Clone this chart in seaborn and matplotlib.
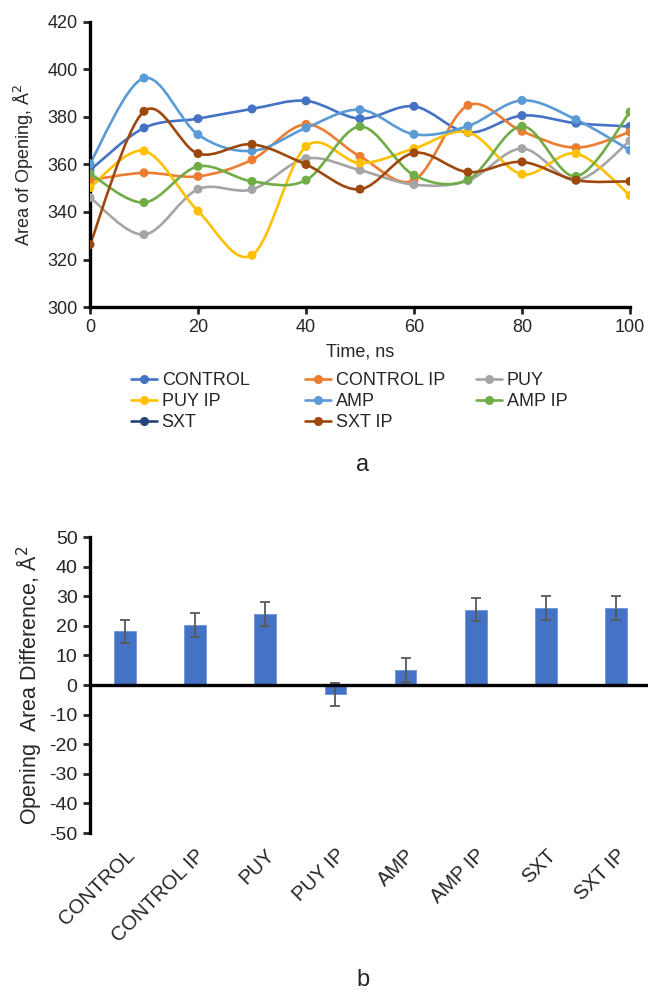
import numpy as np
import pandas as pd
import matplotlib
matplotlib.use("Agg")
import matplotlib.pyplot as plt
from matplotlib.path import Path
from matplotlib.patches import PathPatch
from matplotlib.lines import Line2D
import seaborn as sns

# Panel a: area of opening over time
time_ns = [0, 10, 20, 30, 40, 50, 60, 70, 80, 90, 100]
control = [357.6, 375.4, 379.3, 383.4, 386.8, 379.3, 384.5, 373.5, 380.6, 377.4, 376.0]
control_ip = [353.4, 356.5, 355.0, 362.0, 376.9, 363.4, 353.4, 384.9, 374.0, 367.1, 373.7]
puy = [346.1, 330.5, 349.6, 349.5, 362.5, 357.6, 351.5, 353.2, 366.7, 353.4, 370.0]
puy_ip = [350.3, 365.7, 340.4, 321.8, 367.6, 360.6, 366.7, 373.6, 355.9, 364.6, 347.0]
amp = [360.4, 396.4, 372.6, 365.7, 375.4, 383.1, 372.7, 376.2, 387.0, 378.9, 366.0]
amp_ip = [356.2, 344.0, 359.2, 352.9, 353.4, 376.0, 355.5, 353.6, 376.1, 355.0, 382.1]
sxt = []  # only shown in the legend of the reference
sxt_ip = [326.3, 382.4, 364.6, 368.5, 360.0, 349.6, 364.9, 356.8, 361.1, 353.4, 352.9]

series_names = ["CONTROL", "CONTROL IP", "PUY", "PUY IP", "AMP", "AMP IP", "SXT", "SXT IP"]
series_values = [control, control_ip, puy, puy_ip, amp, amp_ip, sxt, sxt_ip]
colors = ["#4472C4", "#ED7D31", "#A5A5A5", "#FFC000", "#5B9BD5", "#70AD47", "#264478", "#9E480E"]

# Panel b: opening area difference
groups = ["CONTROL", "CONTROL IP", "PUY", "PUY IP", "AMP", "AMP IP", "SXT", "SXT IP"]
diff_values = [18.1, 20.2, 23.9, -3.1, 5.0, 25.5, 26.0, 26.0]
diff_errors = [4.0, 4.0, 4.0, 3.9, 4.0, 4.0, 4.0, 4.0]

sns.set_style("white")
plt.rcParams["font.family"] = ["Liberation Sans", "DejaVu Sans"]
plt.rcParams["axes.unicode_minus"] = False

W, H = 648, 991
fig = plt.figure(figsize=(W / 100, H / 100), dpi=100)


def smooth_path(xs, ys):
    # Excel-style smoothed line: cubic Bezier segments through the data points
    pts = np.column_stack([xs, ys]).astype(float)
    n = len(pts)
    verts = [pts[0]]
    codes = [Path.MOVETO]
    for i in range(n - 1):
        p_prev = pts[i - 1] if i > 0 else pts[i]
        p_next2 = pts[i + 2] if i + 2 < n else pts[i + 1]
        c1 = pts[i] + (pts[i + 1] - p_prev) / 6
        c2 = pts[i + 1] - (p_next2 - pts[i]) / 6
        verts += [c1, c2, pts[i + 1]]
        codes += [Path.CURVE4] * 3
    return Path(verts, codes)


# ---- panel a ----
ax1 = fig.add_axes([90 / W, 1 - 307 / H, 540 / W, 285 / H])
rows = []
for name, vals in zip(series_names, series_values):
    for t, v in zip(time_ns, vals):
        rows.append({"time": t, "area": v, "series": name})
df_line = pd.DataFrame(rows)

for name, vals, c in zip(series_names, series_values, colors):
    if len(vals) == 0:
        continue
    ax1.add_patch(PathPatch(smooth_path(time_ns, vals), facecolor="none",
                            edgecolor=c, lw=1.9, zorder=2))

sns.scatterplot(data=df_line, x="time", y="area", hue="series",
                palette=dict(zip(series_names, colors)), s=42, linewidth=0,
                legend=False, zorder=3, ax=ax1)

ax1.set_xlim(0, 100)
ax1.set_ylim(300, 420)
ax1.set_xticks(range(0, 101, 20))
ax1.set_yticks(range(300, 421, 20))
ax1.set_xlabel("Time, ns", fontsize=13, labelpad=5)
ax1.set_ylabel("Area of Opening, Å$^2$", fontsize=13, labelpad=8)
ax1.tick_params(axis="both", labelsize=13, direction="out", length=5, width=2,
                left=True, bottom=True, pad=4)
for s in ["top", "right"]:
    ax1.spines[s].set_visible(False)
for s in ["left", "bottom"]:
    ax1.spines[s].set_linewidth(2.4)
    ax1.spines[s].set_color("black")

# legend: three columns placed like the reference
handles = [Line2D([], [], color=c, marker="o", markersize=5.5, lw=1.9) for c in colors]
col_members = [[0, 3, 6], [1, 4, 7], [2, 5]]
col_x = [131, 305, 476]
for members, x in zip(col_members, col_x):
    fig.legend([handles[i] for i in members], [series_names[i] for i in members],
               loc="upper left", bbox_to_anchor=(x / W, 1 - 372 / H),
               frameon=False, fontsize=13, borderpad=0, borderaxespad=0,
               handlelength=1.45, handletextpad=0.25, labelspacing=0.22)

fig.text(363 / W, 1 - 465 / H, "a", fontsize=17, ha="center", va="center")

# ---- panel b ----
ax2 = fig.add_axes([90 / W, 1 - 833 / H, 561 / W, 296 / H])
df_bar = pd.DataFrame({"group": groups, "diff": diff_values})
sns.barplot(data=df_bar, x="group", y="diff", color="#4472C4", width=0.31,
            saturation=1, edgecolor="#6F95D8", linewidth=0.6, ax=ax2, zorder=2)
ax2.errorbar(range(len(groups)), diff_values, yerr=diff_errors, fmt="none",
             ecolor="#595959", elinewidth=1.3, capsize=3.5, capthick=1.3, zorder=3)
ax2.axhline(0, color="black", lw=2.4, zorder=4)

ax2.set_xlim(-0.5, len(groups) - 0.5)
ax2.set_ylim(-50, 50)
ax2.set_yticks(range(-50, 51, 10))
ax2.set_xlabel("")
ax2.set_ylabel("Opening  Area Difference, Å$^2$", fontsize=15.5, labelpad=4)
ax2.tick_params(axis="y", labelsize=14, direction="out", length=5, width=2,
                left=True, pad=4)
ax2.tick_params(axis="x", length=0, labelsize=14.5, pad=9)
plt.setp(ax2.get_xticklabels(), rotation=45, ha="right", rotation_mode="anchor")
for s in ["top", "right", "bottom"]:
    ax2.spines[s].set_visible(False)
ax2.spines["left"].set_linewidth(2.4)
ax2.spines["left"].set_color("black")

fig.text(363 / W, 1 - 980 / H, "b", fontsize=17, ha="center", va="center")

fig.savefig("out.png", dpi=100)
